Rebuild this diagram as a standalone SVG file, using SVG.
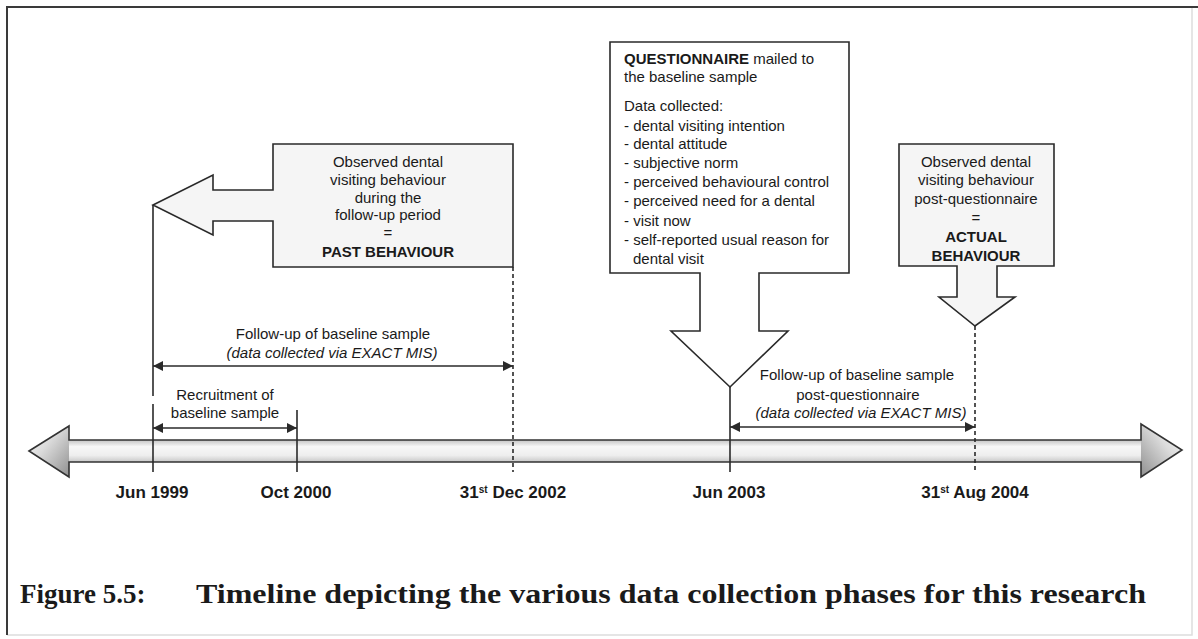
<svg xmlns="http://www.w3.org/2000/svg" width="1198" height="639" viewBox="0 0 1198 639">
  <style>
    .lbl { font-family: "Liberation Sans", Arial, sans-serif; font-size: 15px; fill: #1a1a1a; }
    .ctr { text-anchor: middle; }
    .b { font-weight: bold; }
    .it { font-style: italic; }
    .date { font-family: "Liberation Sans", Arial, sans-serif; font-size: 17px; font-weight: bold; fill: #1a1a1a; text-anchor: middle; }
    .cap { font-family: "Liberation Serif", "Times New Roman", serif; font-size: 27px; font-weight: bold; fill: #1a1a1a; }
    .callout { fill: #f5f5f5; stroke: #2a2a2a; stroke-width: 1.6; stroke-linejoin: miter; }
    .tick { stroke: #2a2a2a; stroke-width: 1.6; fill: none; }
    .dash { stroke: #2a2a2a; stroke-width: 1.6; stroke-dasharray: 4 3; fill: none; }
    .span { stroke: #2a2a2a; stroke-width: 1.4; fill: none; marker-start: url(#tri); marker-end: url(#tri); }
  </style>
  <defs>
    <marker id="tri" viewBox="0 0 10 10" refX="10" refY="5" markerWidth="11" markerHeight="10" markerUnits="userSpaceOnUse" orient="auto-start-reverse">
      <path d="M0,0 L10,5 L0,10 Z" fill="#2a2a2a"/>
    </marker>
    <linearGradient id="shaft" x1="0" y1="0" x2="0" y2="1">
      <stop offset="0" stop-color="#c4c4c4"/>
      <stop offset="0.3" stop-color="#f7f7f7"/>
      <stop offset="0.7" stop-color="#eeeeee"/>
      <stop offset="1" stop-color="#c8c8c8"/>
    </linearGradient>
    <linearGradient id="headL" x1="1" y1="1" x2="0" y2="0">
      <stop offset="0" stop-color="#8f8f8f"/>
      <stop offset="0.6" stop-color="#dcdcdc"/>
      <stop offset="1" stop-color="#f6f6f6"/>
    </linearGradient>
    <linearGradient id="headR" x1="0" y1="1" x2="1" y2="0">
      <stop offset="0" stop-color="#8f8f8f"/>
      <stop offset="0.6" stop-color="#dcdcdc"/>
      <stop offset="1" stop-color="#f6f6f6"/>
    </linearGradient>
  </defs>

  <rect width="1198" height="639" fill="#ffffff"/>

  <!-- page frame -->
  <g id="frame">
    <path d="M1192,7 V635 H7" fill="none" stroke="#dddddd" stroke-width="1.5"/>
    <path d="M7,635 V7 H1198" fill="none" stroke="#3a3a3a" stroke-width="2"/>
  </g>

  <!-- main time axis: double-headed block arrow -->
  <g id="timeline">
    <rect x="69" y="440" width="1072" height="22" fill="url(#shaft)"/>
    <path d="M29,451 L69,426 L69,477 Z" fill="url(#headL)"/>
    <path d="M1182,450 L1141,424 L1141,477 Z" fill="url(#headR)"/>
    <path d="M29,451 L69,426 L69,440 L1141,440 L1141,424 L1182,450 L1141,477 L1141,462 L69,462 L69,477 Z" fill="none" stroke="#333333" stroke-width="1.6" stroke-linejoin="miter"/>
  </g>

  <!-- callouts -->
  <g id="past-behaviour">
    <path class="callout" d="M153,205 L213,175 L213,190 L273,190 L273,144 L513,144 L513,267 L273,267 L273,221 L213,221 L213,235 Z"/>
    <text class="lbl ctr" x="388" y="167">Observed dental</text>
    <text class="lbl ctr" x="388" y="185">visiting behaviour</text>
    <text class="lbl ctr" x="388" y="203">during the</text>
    <text class="lbl ctr" x="388" y="220">follow-up period</text>
    <text class="lbl ctr" x="388" y="238">=</text>
    <text class="lbl ctr b" x="388" y="257">PAST BEHAVIOUR</text>
  </g>

  <g id="questionnaire">
    <path class="callout" style="fill:#ffffff" d="M610,42 H849 V273 H759 V331 H788 L730,387 L671,331 H700 V273 H610 Z"/>
    <text class="lbl" x="624" y="64"><tspan class="b">QUESTIONNAIRE</tspan> mailed to</text>
    <text class="lbl" x="624" y="82">the baseline sample</text>
    <text class="lbl" x="624" y="111">Data collected:</text>
    <text class="lbl" x="624" y="131">- dental visiting intention</text>
    <text class="lbl" x="624" y="149">- dental attitude</text>
    <text class="lbl" x="624" y="168">- subjective norm</text>
    <text class="lbl" x="624" y="187">- perceived behavioural control</text>
    <text class="lbl" x="624" y="206">- perceived need for a dental</text>
    <text class="lbl" x="624" y="226">- visit now</text>
    <text class="lbl" x="624" y="245">- self-reported usual reason for</text>
    <text class="lbl" x="633" y="264">dental visit</text>
  </g>

  <g id="actual-behaviour">
    <path class="callout" d="M899,144 H1054 V266 H997 V297 H1015 L975,326 L939,297 H957 V266 H899 Z"/>
    <text class="lbl ctr" x="976" y="167">Observed dental</text>
    <text class="lbl ctr" x="976" y="185">visiting behaviour</text>
    <text class="lbl ctr" x="976" y="204">post-questionnaire</text>
    <text class="lbl ctr" x="976" y="223">=</text>
    <text class="lbl ctr b" x="976" y="242">ACTUAL</text>
    <text class="lbl ctr b" x="976" y="261">BEHAVIOUR</text>
  </g>

  <!-- date markers and spans -->
  <g id="connectors">
    <line class="tick" x1="153" y1="205" x2="153" y2="396"/>
    <line class="tick" x1="153" y1="404" x2="153" y2="472"/>
    <line class="tick" x1="297" y1="410" x2="297" y2="472"/>
    <line class="dash" x1="513" y1="267" x2="513" y2="472"/>
    <line class="tick" x1="730" y1="387" x2="730" y2="472"/>
    <line class="dash" x1="975" y1="326" x2="975" y2="472"/>
    <line class="span" x1="153" y1="366" x2="513" y2="366"/>
    <line class="span" x1="153" y1="428" x2="297" y2="428"/>
    <line class="span" x1="730" y1="427" x2="975" y2="427"/>
  </g>

  <g id="span-labels">
    <text class="lbl ctr" x="333" y="339">Follow-up of baseline sample</text>
    <text class="lbl ctr it" x="332" y="358">(data collected via EXACT MIS)</text>
    <text class="lbl ctr" x="225" y="400">Recruitment of</text>
    <text class="lbl ctr" x="225" y="418">baseline sample</text>
    <text class="lbl ctr" x="857" y="380">Follow-up of baseline sample</text>
    <text class="lbl ctr" x="858" y="400">post-questionnaire</text>
    <text class="lbl ctr it" x="861" y="418">(data collected via EXACT MIS)</text>
  </g>

  <g id="dates">
    <text class="date" x="152" y="498">Jun 1999</text>
    <text class="date" x="296" y="498">Oct 2000</text>
    <text class="date" x="513" y="498">31<tspan font-size="10" dy="-5">st</tspan><tspan dy="5"> Dec 2002</tspan></text>
    <text class="date" x="729" y="498">Jun 2003</text>
    <text class="date" x="975" y="498">31<tspan font-size="10" dy="-5">st</tspan><tspan dy="5"> Aug 2004</tspan></text>
  </g>

  <g id="caption">
    <text class="cap" x="20" y="603">Figure 5.5:</text>
    <text class="cap" x="196" y="603" textLength="950" lengthAdjust="spacingAndGlyphs">Timeline depicting the various data collection phases for this research</text>
  </g>
</svg>
